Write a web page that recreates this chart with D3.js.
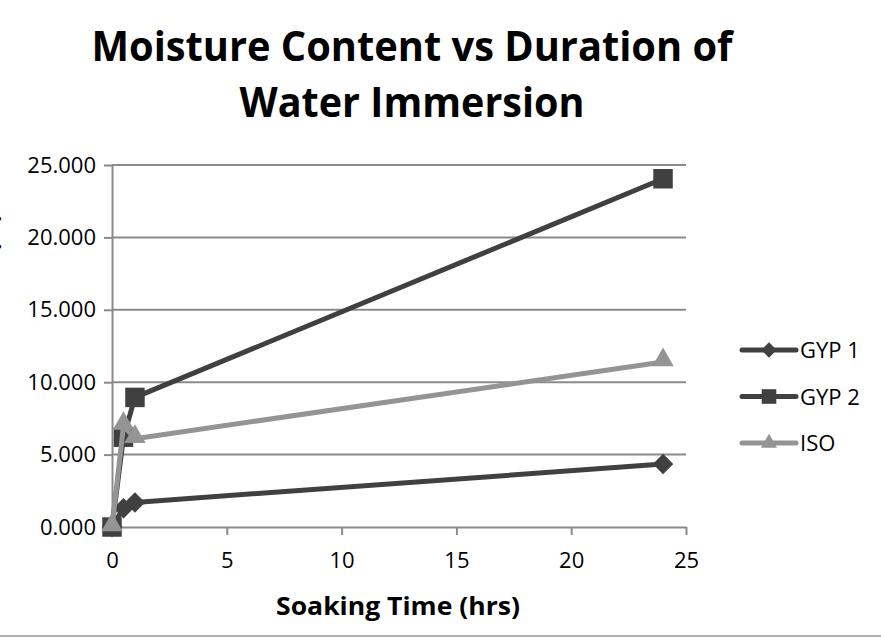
<!DOCTYPE html>
<html>
<head>
<meta charset="utf-8">
<script src="https://cdn.jsdelivr.net/npm/d3@7"></script>
<style>
  body { margin: 0; background: #fff; }
  svg { display: block; font-family: "Open Sans", sans-serif; }
</style>
</head>
<body>
<div id="svg"></div>
<script>
// values
var hours = [0, 0.5, 1, 24];
var gyp1 = [0, 1.3, 1.7, 4.35];
var gyp2 = [0, 6.2, 8.95, 24.05];
var iso  = [0, 7.0, 6.1, 11.4];
var seriesNames = ["GYP 1", "GYP 2", "ISO"];
var xTicks = [0, 5, 10, 15, 20, 25];
var yTicks = [0, 5, 10, 15, 20, 25];

var width = 881;
var height = 640;

var series = [
  { name: seriesNames[0], values: gyp1, color: "#404040", shape: "diamond" },
  { name: seriesNames[1], values: gyp2, color: "#404040", shape: "square" },
  { name: seriesNames[2], values: iso,  color: "#949494", shape: "triangle" }
];

var xScale = d3.scaleLinear().domain([0, 25]).range([112, 686]);
var yScale = d3.scaleLinear().domain([0, 25]).range([527, 165]);

var svg = d3.select("#svg").append("svg")
    .attr("width", width)
    .attr("height", height);

// title
svg.append("text")
    .attr("x", 412).attr("y", 61)
    .attr("text-anchor", "middle")
    .attr("font-size", 41).attr("font-weight", "bold")
    .attr("textLength", 641).attr("lengthAdjust", "spacingAndGlyphs")
    .text("Moisture Content vs Duration of");
svg.append("text")
    .attr("x", 412).attr("y", 117)
    .attr("text-anchor", "middle")
    .attr("font-size", 41).attr("font-weight", "bold")
    .attr("textLength", 345).attr("lengthAdjust", "spacingAndGlyphs")
    .text("Water Immersion");

// grid lines
svg.append("g")
  .selectAll("line")
  .data(yTicks.slice(1))
  .enter().append("line")
    .attr("x1", xScale(0)).attr("x2", xScale(25))
    .attr("y1", d => yScale(d)).attr("y2", d => yScale(d))
    .attr("stroke", "#8a8a8a").attr("stroke-width", 2);

var yAxis = d3.axisLeft(yScale)
    .tickValues(yTicks)
    .tickFormat(d3.format(".3f"))
    .tickSize(8).tickSizeOuter(0).tickPadding(8);

var xAxis = d3.axisBottom(xScale)
    .tickValues(xTicks)
    .tickSize(8).tickSizeOuter(0).tickPadding(17);

var gy = svg.append("g")
    .attr("transform", "translate(" + xScale(0) + ",0)")
    .call(yAxis);
gy.selectAll("text").attr("font-size", 22).attr("fill", "#000")
    .attr("font-family", "Open Sans, sans-serif");

var gx = svg.append("g")
    .attr("transform", "translate(0," + yScale(0) + ")")
    .call(xAxis);
gx.selectAll("text").attr("font-size", 22).attr("fill", "#000")
    .attr("font-family", "Open Sans, sans-serif");

[gx, gy].forEach(function(g) {
  g.selectAll("path, line").attr("stroke", "#8a8a8a").attr("stroke-width", 2);
});

// axis titles
svg.append("text")
    .attr("x", 398).attr("y", 615)
    .attr("text-anchor", "middle")
    .attr("font-size", 25).attr("font-weight", "bold")
    .attr("textLength", 244).attr("lengthAdjust", "spacingAndGlyphs")
    .text("Soaking Time (hrs)");

// y title: cut off by the left edge, as in the picture
svg.append("text")
    .attr("transform", "translate(-3,346) rotate(-90)")
    .attr("text-anchor", "middle")
    .attr("font-size", 25).attr("font-weight", "bold")
    .text("Moisture Content (%)");

function marker(shape, big) {
  var k = big ? 1 : 0.75;
  if (shape === "diamond") return d3.symbol().type(d3.symbolSquare).size(210 * k * k)();
  if (shape === "square") return d3.symbol().type(d3.symbolSquare).size(380 * k * k)();
  return d3.symbol().type(d3.symbolTriangle).size(200 * k * k)();
}

var line = d3.line()
    .x((d, i) => xScale(hours[i]))
    .y(d => yScale(d));

series.forEach(function(s) {
  svg.append("path")
    .datum(s.values)
    .attr("fill", "none")
    .attr("stroke", s.color)
    .attr("stroke-width", 5)
    .attr("stroke-linejoin", "round")
    .attr("d", line);

  svg.selectAll(".pt-" + s.shape)
    .data(s.values)
    .enter().append("path")
      .attr("class", "pt-" + s.shape)
      .attr("d", marker(s.shape, true))
      .attr("fill", s.color)
      .attr("transform", (d, i) => "translate(" + xScale(hours[i]) + "," + yScale(d) + ")" +
            (s.shape === "diamond" ? " rotate(45)" : "") +
            (s.shape === "triangle" ? " translate(0,-2)" : ""));
});

// legend
var legend = svg.append("g").attr("transform", "translate(742,350)");
series.forEach(function(s, i) {
  var row = legend.append("g").attr("transform", "translate(0," + (i * 46.5) + ")");
  row.append("line")
    .attr("x1", 0).attr("x2", 54)
    .attr("stroke", s.color).attr("stroke-width", 5)
    .attr("stroke-linecap", "round");
  row.append("path")
    .attr("d", marker(s.shape, false))
    .attr("fill", s.color)
    .attr("transform", "translate(27,0)" + (s.shape === "diamond" ? " rotate(45)" : ""));
  row.append("text")
    .attr("x", 58).attr("y", 8)
    .attr("font-size", 22)
    .text(s.name);
});

// bottom frame line
svg.append("line")
    .attr("x1", 0).attr("x2", width)
    .attr("y1", 636).attr("y2", 636)
    .attr("stroke", "#b0b0b0").attr("stroke-width", 2);
</script>
</body>
</html>
